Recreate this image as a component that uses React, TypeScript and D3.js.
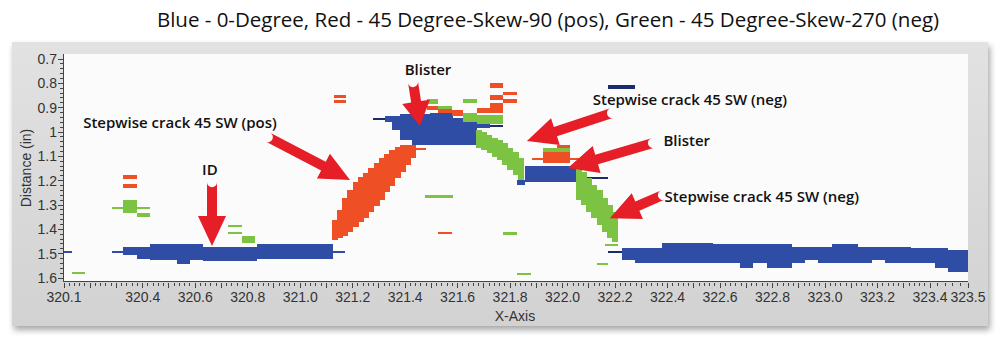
import React from "react";
import * as d3 from "d3";

const title = "Blue - 0-Degree, Red - 45 Degree-Skew-90 (pos), Green - 45 Degree-Skew-270 (neg)";
const xTickLabels = [320.1, 320.4, 320.6, 320.8, 321.0, 321.2, 321.4, 321.6, 321.8, 322.0, 322.2, 322.4, 322.6, 322.8, 323.0, 323.2, 323.4, 323.5];
const yTickLabels = [0.7, 0.8, 0.9, 1, 1.1, 1.2, 1.3, 1.4, 1.5, 1.6];

// [xStart, xEnd, depthTop, depthBottom]
const blueRects: number[][] = [
  [320.096, 320.13, 1.489, 1.499],
  [320.283, 320.325, 1.489, 1.499],
  [320.325, 320.378, 1.473, 1.505],
  [320.378, 320.428, 1.473, 1.522],
  [320.428, 320.53, 1.46, 1.526],
  [320.53, 320.58, 1.46, 1.542],
  [320.58, 320.63, 1.46, 1.526],
  [320.63, 320.835, 1.473, 1.53],
  [320.835, 321.125, 1.46, 1.522],
  [321.125, 321.17, 1.489, 1.499],
  [321.323, 321.35, 0.934, 0.959],
  [321.35, 321.38, 0.934, 0.992],
  [321.38, 321.426, 0.926, 1.033],
  [321.426, 321.494, 0.926, 1.053],
  [321.494, 321.582, 0.922, 1.053],
  [321.582, 321.62, 0.942, 1.053],
  [321.62, 321.673, 0.959, 1.053],
  [321.673, 321.723, 0.967, 0.984],
  [321.826, 321.856, 1.197, 1.218],
  [321.856, 322.054, 1.14, 1.206],
  [322.226, 322.275, 1.477, 1.526],
  [322.275, 322.378, 1.477, 1.538],
  [322.378, 322.572, 1.456, 1.538],
  [322.572, 322.675, 1.46, 1.538],
  [322.675, 322.725, 1.46, 1.559],
  [322.725, 322.778, 1.46, 1.538],
  [322.778, 322.873, 1.46, 1.559],
  [322.873, 322.923, 1.473, 1.538],
  [322.923, 322.972, 1.473, 1.526],
  [322.972, 323.026, 1.473, 1.538],
  [323.026, 323.125, 1.46, 1.538],
  [323.125, 323.178, 1.473, 1.538],
  [323.178, 323.228, 1.473, 1.526],
  [323.228, 323.327, 1.473, 1.538],
  [323.327, 323.413, 1.477, 1.538],
  [323.413, 323.447, 1.477, 1.559],
  [323.447, 323.5, 1.485, 1.575],
];

const navyRects: number[][] = [
  [321.277, 321.323, 0.942, 0.951],
  [321.723, 321.772, 0.971, 0.98],
  [322.077, 322.172, 1.186, 1.194],
  [322.172, 322.275, 0.807, 0.825],
  [322.172, 322.226, 1.489, 1.499],
];

const redRects: number[][] = [
  [320.325, 320.378, 1.177, 1.193],
  [320.325, 320.378, 1.214, 1.23],
  [321.129, 321.174, 0.848, 0.86],
  [321.129, 321.174, 0.869, 0.881],
  [321.426, 321.479, 1.066, 1.074],
  [321.525, 321.578, 1.411, 1.419],
  [321.483, 321.525, 0.893, 0.91],
  [321.525, 321.578, 0.906, 0.922],
  [321.578, 321.62, 0.91, 0.934],
  [321.673, 321.723, 0.901, 0.922],
  [321.723, 321.772, 0.799, 0.819],
  [321.723, 321.772, 0.848, 0.869],
  [321.723, 321.772, 0.881, 0.922],
  [321.772, 321.826, 0.836, 0.848],
  [321.772, 321.826, 0.864, 0.881],
  [321.925, 322.028, 1.082, 1.127],
  [321.978, 322.028, 1.053, 1.066],
  [321.883, 322.073, 1.107, 1.115],
];

const greenRects: number[][] = [
  [320.13, 320.18, 1.576, 1.584],
  [320.283, 320.428, 1.307, 1.317],
  [320.325, 320.378, 1.28, 1.333],
  [320.378, 320.428, 1.333, 1.349],
  [320.725, 320.778, 1.382, 1.391],
  [320.725, 320.778, 1.411, 1.419],
  [320.778, 320.828, 1.428, 1.456],
  [321.475, 321.582, 1.259, 1.271],
  [321.772, 321.826, 1.411, 1.423],
  [321.826, 321.879, 1.58, 1.588],
  [322.13, 322.172, 1.538, 1.546],
  [321.483, 321.525, 0.864, 0.885],
  [321.525, 321.578, 0.893, 0.906],
  [321.62, 321.673, 0.864, 0.881],
  [321.62, 321.673, 0.922, 0.959],
  [321.673, 321.772, 0.93, 0.967],
  [321.925, 322.028, 1.066, 1.082],
  [322.16, 322.21, 1.46, 1.467],
];

// stepwise crack columns (each 0.02 wide)
const redCrackX = [321.12, 321.14, 321.16, 321.18, 321.2, 321.22, 321.24, 321.26, 321.28, 321.3, 321.32, 321.34, 321.36, 321.38, 321.4, 321.42];
const redCrackTop = [1.362, 1.321, 1.271, 1.238, 1.206, 1.185, 1.169, 1.148, 1.127, 1.107, 1.09, 1.074, 1.062, 1.053, 1.053, 1.053];
const redCrackBottom = [1.444, 1.436, 1.427, 1.411, 1.391, 1.37, 1.354, 1.329, 1.304, 1.28, 1.247, 1.222, 1.189, 1.164, 1.136, 1.107];

const greenCrack1X = [321.67, 321.69, 321.71, 321.73, 321.75, 321.77, 321.79, 321.81, 321.83];
const greenCrack1Top = [0.992, 1.0, 1.012, 1.025, 1.033, 1.045, 1.066, 1.082, 1.107];
const greenCrack1Bottom = [1.066, 1.074, 1.086, 1.103, 1.115, 1.136, 1.156, 1.177, 1.197];

const greenCrack2X = [322.05, 322.07, 322.09, 322.11, 322.13, 322.15, 322.17, 322.19];
const greenCrack2Top = [1.148, 1.164, 1.189, 1.218, 1.238, 1.271, 1.3, 1.329];
const greenCrack2Bottom = [1.28, 1.3, 1.329, 1.354, 1.382, 1.411, 1.436, 1.452];

// annotations: label, label x, label depth
const labelTexts = ["Stepwise crack 45 SW (pos)", "ID", "Blister", "Stepwise crack 45 SW (neg)", "Blister", "Stepwise crack 45 SW (neg)"];
const labelX = [320.542, 320.656, 321.487, 322.485, 322.473, 322.759];
const labelY = [0.963, 1.156, 0.745, 0.869, 1.037, 1.267];
// arrows: [fromX, fromDepth, toX, toDepth]
const arrows: number[][] = [
  [320.877, 1.021, 321.19, 1.197],
  [320.664, 1.206, 320.664, 1.469],
  [321.43, 0.795, 321.456, 0.975],
  [322.188, 0.922, 321.864, 1.037],
  [322.344, 1.045, 322.02, 1.148],
  [322.382, 1.259, 322.18, 1.354],
];

const W = 1006, H = 344;
const plotL = 63, plotR = 968, plotT = 54, plotB = 281;

const x = d3.scaleLinear().domain([320.1, 323.4, 323.5]).range([64, 930, 968]);
const y = d3.scaleLinear().domain([0.7, 1.6]).range([59, 278]);

const BLUE = "#2f4da4";
const NAVY = "#1c2b6e";
const RED = "#ef4f24";
const GREEN = "#7cc243";
const ARROW = "#e61e28";

function arrowPath(x1: number, y1: number, x2: number, y2: number) {
  const dx = x2 - x1, dy = y2 - y1;
  const len = Math.hypot(dx, dy);
  const ux = dx / len, uy = dy / len;
  const px = -uy, py = ux;
  const sw = 5, hw = 14, hl = Math.min(30, len * 0.55);
  const bx = x2 - ux * hl, by = y2 - uy * hl;
  const p = d3.path();
  p.moveTo(x1 + px * sw, y1 + py * sw);
  p.lineTo(bx + px * sw, by + py * sw);
  p.lineTo(bx + px * hw, by + py * hw);
  p.lineTo(x2, y2);
  p.lineTo(bx - px * hw, by - py * hw);
  p.lineTo(bx - px * sw, by - py * sw);
  p.lineTo(x1 - px * sw, y1 - py * sw);
  p.arc(x1, y1, sw, Math.atan2(-py, -px), Math.atan2(py, px), false);
  p.closePath();
  return p.toString();
}

function rects(data: number[][], fill: string, key: string) {
  return data.map((r, i) => (
    <rect key={key + i} x={x(r[0])} y={y(r[2])} width={Math.max(1, x(r[1]) - x(r[0]))} height={Math.max(1.5, y(r[3]) - y(r[2]))} fill={fill} />
  ));
}

function columns(xs: number[], tops: number[], bottoms: number[], fill: string, key: string) {
  return xs.map((v, i) => (
    <rect key={key + i} x={x(v)} y={y(tops[i])} width={x(v + 0.02) - x(v) + 0.6} height={y(bottoms[i]) - y(tops[i])} fill={fill} />
  ));
}

export default function App() {
  const minorX = d3.range(320.1, 323.5001, 0.02);
  const minorY = d3.range(0.7, 1.6001, 0.02);
  return (
    <svg width={W} height={H} style={{ position: "absolute", left: 0, top: 0, background: "#fff" }}>
      <defs>
        <linearGradient id="panel" x1="0" y1="0" x2="0" y2="1">
          <stop offset="0" stopColor="#e2e2e2" />
          <stop offset="1" stopColor="#d2d2d2" />
        </linearGradient>
        <filter id="shadow" x="-5%" y="-5%" width="110%" height="120%">
          <feDropShadow dx="2" dy="4" stdDeviation="3" floodColor="#000" floodOpacity="0.35" />
        </filter>
      </defs>
      <text x={548} y={27} textAnchor="middle" fontFamily="Open Sans" fontSize={20.5} fill="#111">{title}</text>
      <rect x={12} y={42} width={976} height={284} fill="url(#panel)" filter="url(#shadow)" />
      <rect x={plotL} y={plotT} width={plotR - plotL} height={plotB - plotT} fill="#fbfbfb" />
      <g shapeRendering="crispEdges">
        {rects(blueRects, BLUE, "b")}
        {rects(navyRects, NAVY, "n")}
        {columns(redCrackX, redCrackTop, redCrackBottom, RED, "rc")}
        {columns(greenCrack1X, greenCrack1Top, greenCrack1Bottom, GREEN, "g1")}
        {columns(greenCrack2X, greenCrack2Top, greenCrack2Bottom, GREEN, "g2")}
        {rects(redRects, RED, "r")}
        {rects(greenRects, GREEN, "g")}
      </g>
      {/* axes */}
      <g stroke="#444" strokeWidth={1} shapeRendering="crispEdges">
        <line x1={plotL} x2={plotL} y1={plotT} y2={plotB} />
        <line x1={plotL} x2={plotR} y1={plotB} y2={plotB} />
        {minorY.map((v, i) => (
          <line key={"my" + i} x1={plotL - (i % 5 === 0 ? 5 : 3)} x2={plotL} y1={y(v)} y2={y(v)} />
        ))}
        {minorX.map((v, i) => (
          <line key={"mx" + i} x1={x(v)} x2={x(v)} y1={plotB + 2} y2={plotB + (i % 5 === 0 ? 7 : 5)} />
        ))}
      </g>
      <g fontFamily="Liberation Sans, Arial" fontSize={14} fill="#333">
        {yTickLabels.map((v) => (
          <text key={"yl" + v} x={57} y={y(v) + 5} textAnchor="end">{String(v)}</text>
        ))}
        {xTickLabels.map((v) => (
          <text key={"xl" + v} x={x(v)} y={302} textAnchor="middle">{v.toFixed(1)}</text>
        ))}
        <text x={515} y={321} textAnchor="middle">X-Axis</text>
        <text transform={`translate(31,${168}) rotate(-90)`} textAnchor="middle">Distance (in)</text>
      </g>
      {/* annotations */}
      <g fill={ARROW}>
        {arrows.map((a, i) => (
          <path key={"a" + i} d={arrowPath(x(a[0]), y(a[1]), x(a[2]), y(a[3]))} />
        ))}
      </g>
      <g fontFamily="Open Sans" fontWeight={600} fontSize={15} fill="#111">
        {labelTexts.map((t, i) => (
          <text key={"t" + i} x={x(labelX[i])} y={y(labelY[i]) + 5} textAnchor="middle">{t}</text>
        ))}
      </g>
    </svg>
  );
}
